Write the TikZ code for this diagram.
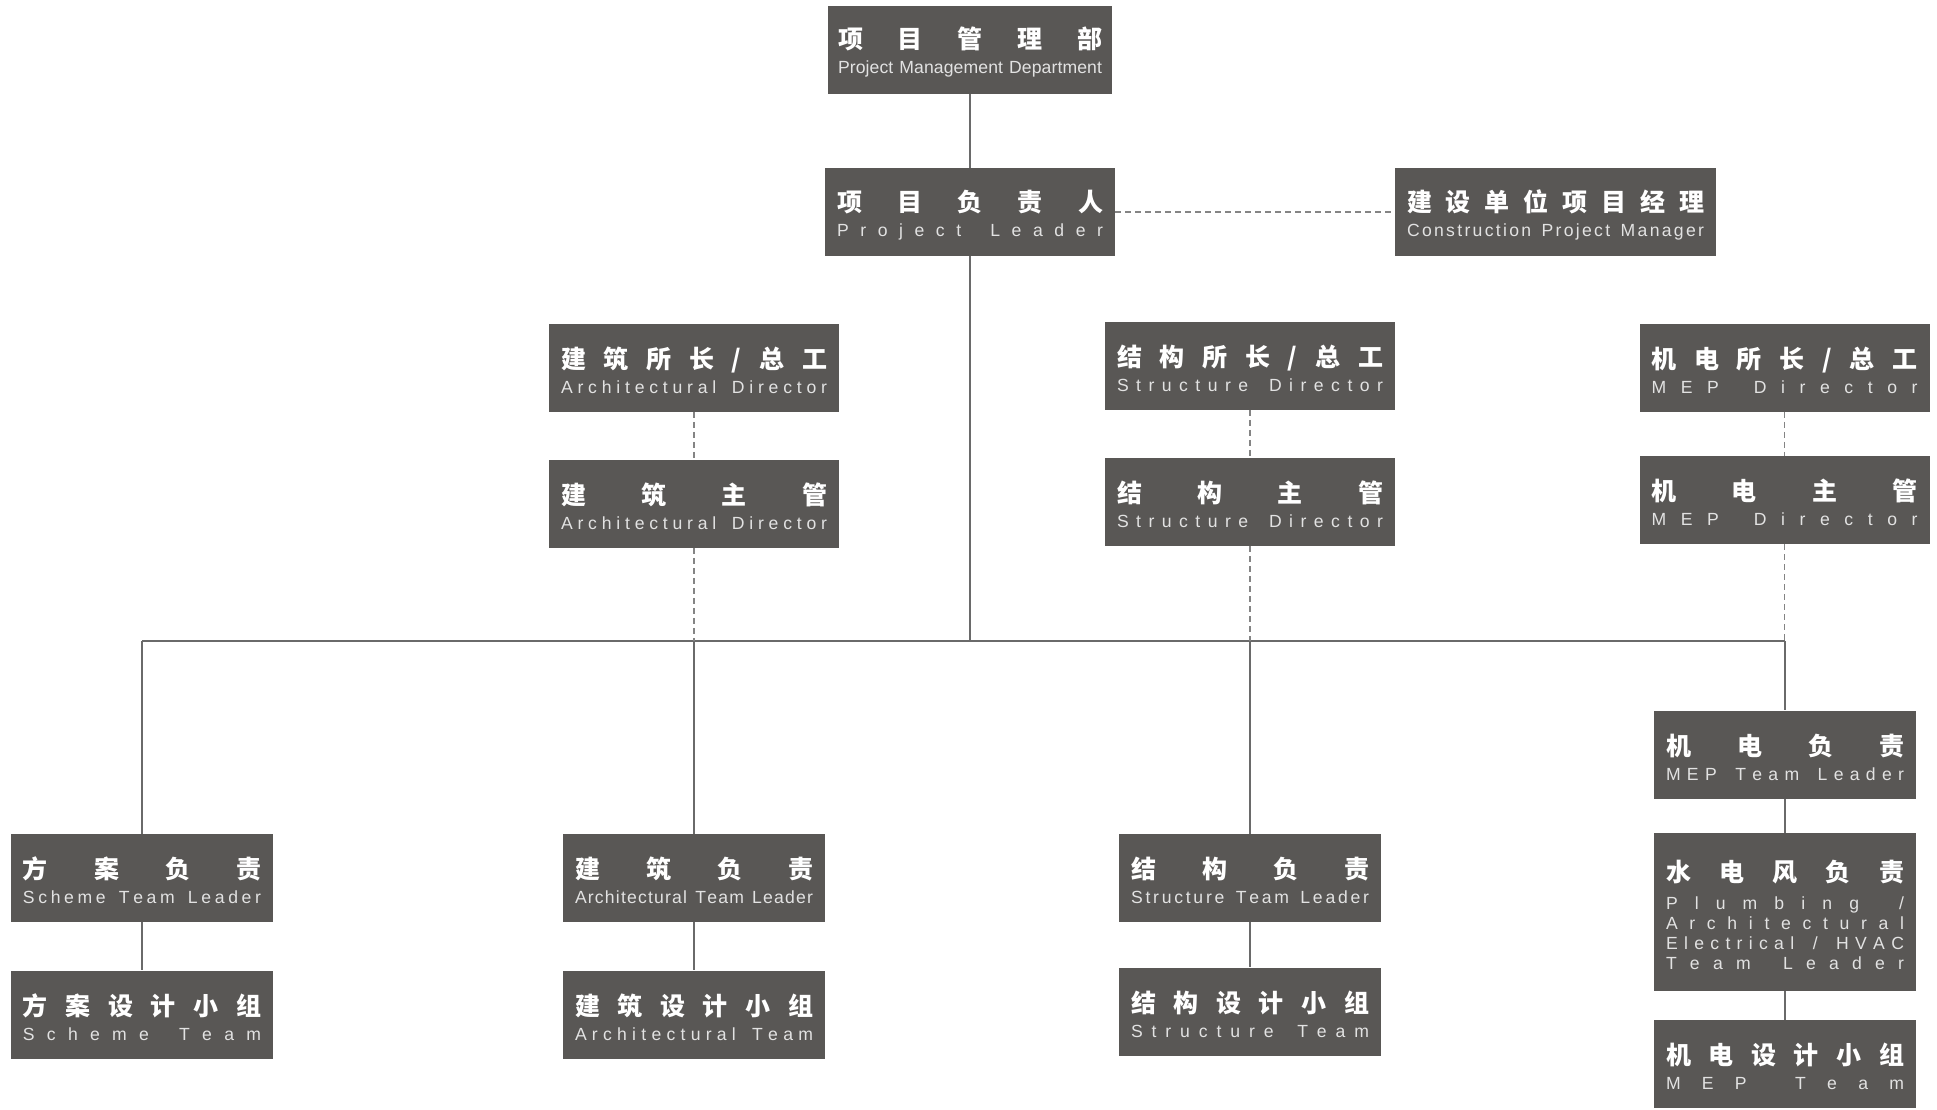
\documentclass[tikz,border=0pt]{standalone}
\usepackage{fontspec}
\setmainfont{Liberation Sans}
\newfontfamily\cnfont{Noto Sans CJK SC}

\definecolor{boxgrey}{HTML}{595755}
\definecolor{linegrey}{HTML}{6A6A6A}
\definecolor{dashgrey}{HTML}{848484}
\definecolor{entext}{HTML}{E2E2E2}

% spread the letters of one line over the whole box
\ExplSyntaxOn
\NewDocumentCommand \spread { m } { \str_map_inline:nn {#1} { ##1 \hfil } \unskip }
\ExplSyntaxOff

\newcommand\cnline[1]{\makebox[\hsize][s]{\rule{0pt}{13.5pt}\cnfont\bfseries\fontsize{12.5}{12.5}\selectfont\color{white}\spread{#1}}}
\newcommand\enline[1]{\makebox[\hsize][s]{\spread{#1}}}
\newcommand\card[2]{\cnline{#1}\\\enline{#2}}

\begin{document}
\begin{tikzpicture}
    [
    x=0.5pt, y=-0.5pt,
    every node/.style={fill=boxgrey,text=entext,inner sep=0pt,align=center,
      minimum height=44pt,font=\fontsize{8.8}{12.5}\selectfont},
    head/.style={minimum width=142pt,text width=132pt},
    chief/.style={minimum width=145pt,text width=133pt},
    client/.style={minimum width=160.5pt,text width=148.5pt},
    team/.style={minimum width=131pt,text width=119pt},
    link/.style={draw=linegrey,line width=0.75pt},
    dashlink/.style={draw=dashgrey,line width=0.75pt,dash pattern=on 3pt off 2pt},
    ]
    \useasboundingbox (0,0) rectangle (1937,1109);

    % top
    \node[head] (pmd) at (970,49.5) {\card{项目管理部}{Project Management Department}};
    \node[chief] (lead) at (970,212) {\card{项目负责人}{Project Leader}};
    \node[client] (cpm) at (1555.5,212) {\card{建设单位项目经理}{Construction Project Manager}};

    % directors
    \node[chief] (archdir) at (694,367.5) {\card{建筑所长/总工}{Architectural Director}};
    \node[chief] (archmgr) at (694,503.5) {\card{建筑主管}{Architectural Director}};
    \node[chief] (strdir) at (1250,365.5) {\card{结构所长/总工}{Structure Director}};
    \node[chief] (strmgr) at (1250,502) {\card{结构主管}{Structure Director}};
    \node[chief] (mepdir) at (1784.5,367.5) {\card{机电所长/总工}{MEP Director}};
    \node[chief] (mepmgr) at (1784.5,500) {\card{机电主管}{MEP Director}};

    % teams
    \node[team] (schlead) at (142,878) {\card{方案负责}{Scheme Team Leader}};
    \node[team] (schteam) at (142,1014.5) {\card{方案设计小组}{Scheme Team}};
    \node[team] (archlead) at (694,878) {\card{建筑负责}{Architectural Team Leader}};
    \node[team] (archteam) at (694,1014.5) {\card{建筑设计小组}{Architectural Team}};
    \node[team] (strlead) at (1250,878) {\card{结构负责}{Structure Team Leader}};
    \node[team] (strteam) at (1250,1011.5) {\card{结构设计小组}{Structure Team}};
    \node[team] (meplead) at (1785,754.5) {\card{机电负责}{MEP Team Leader}};
    \node[team,minimum height=79pt,font=\fontsize{8.8}{10}\selectfont] (plumb) at (1785,912)
      {\cnline{水电风负责}\\[4pt]\enline{Plumbing /}\\\enline{Architectural}\\\enline{Electrical / HVAC}\\\enline{Team Leader}};
    \node[team] (mepteam) at (1785,1064) {\card{机电设计小组}{MEP Team}};

    \coordinate (busL) at (142,641);
    \coordinate (busR) at (1785,641);

    \draw[link] (pmd) -- (lead);
    \draw[dashlink] (lead) -- (cpm);
    \draw[link] (lead.south) -- (lead.south |- busL);
    \draw[link] (busL) -- (busR);

    \draw[dashlink] (archdir) -- (archmgr);
    \draw[dashlink] (archmgr.south) -- (archmgr.south |- busL);
    \draw[dashlink] (strdir) -- (strmgr);
    \draw[dashlink] (strmgr.south) -- (strmgr.south |- busL);
    \draw[dashlink] (mepdir) -- (mepmgr);
    \draw[dashlink] (mepmgr.south) -- (mepmgr.south |- busL);

    \draw[link] (busL) -- (schlead);
    \draw[link] (archlead.north |- busL) -- (archlead);
    \draw[link] (strlead.north |- busL) -- (strlead);
    \draw[link] (busR) -- (meplead);

    \draw[link] (schlead) -- (schteam);
    \draw[link] (archlead) -- (archteam);
    \draw[link] (strlead) -- (strteam);
    \draw[link] (meplead) -- (plumb);
    \draw[link] (plumb) -- (mepteam);
\end{tikzpicture}
\end{document}
